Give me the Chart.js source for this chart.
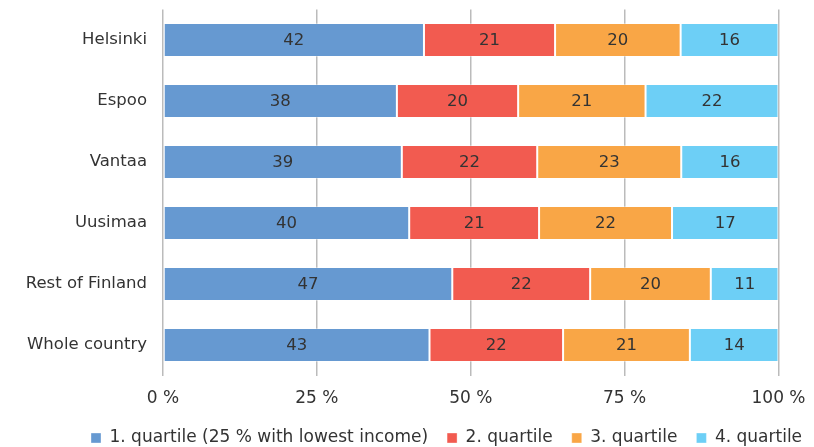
<!DOCTYPE html>
<html>
<head>
<meta charset="utf-8">
<script src="https://cdn.jsdelivr.net/npm/chart.js@4/dist/chart.umd.min.js"></script>
<style>
  html, body { margin: 0; padding: 0; background: #fff; }
  #wrap { width: 814px; height: 447px; }
</style>
</head>
<body>
<div id="wrap"><canvas id="chart"></canvas></div>
<script>
// areas (top to bottom)
const regions = ['Helsinki', 'Espoo', 'Vantaa', 'Uusimaa', 'Rest of Finland', 'Whole country'];

// share of population in each income quartile, %
const quartile1 = [42.4, 38.0, 38.8, 40.0, 47.0, 43.3];
const quartile2 = [21.3, 19.7, 22.0, 21.1, 22.4, 21.7];
const quartile3 = [20.4, 20.7, 23.4, 21.6, 19.6, 20.6];
const quartile4 = [15.9, 21.6, 15.8, 17.3, 11.0, 14.4];

const seriesNames = ['1. quartile (25 % with lowest income)', '2. quartile', '3. quartile', '4. quartile'];
const seriesColors = ['#6699d1', '#f25b50', '#f9a646', '#6dcff6'];
const xTicks = [0, 25, 50, 75, 100];

const FONT = 'DejaVu Sans, Verdana, sans-serif';

// writes the rounded value in the middle of every bar segment
const barLabels = {
    id: 'barLabels',
    afterDatasetsDraw(chart) {
        const ctx = chart.ctx;
        ctx.save();
        ctx.font = '16.5px ' + FONT;
        ctx.fillStyle = '#333333';
        ctx.textAlign = 'center';
        ctx.textBaseline = 'middle';
        chart.data.datasets.forEach(function(ds, i) {
            chart.getDatasetMeta(i).data.forEach(function(bar, j) {
                const x = (bar.x + bar.base) / 2;
                ctx.fillText(Math.round(ds.data[j]), x, bar.y + 1);
            });
        });
        ctx.restore();
    }
};

// legend: less height than chart.js gives it, and starts further right
const legendPlace = {
    id: 'legendPlace',
    beforeLayout(chart) {
        const legend = chart.legend;
        if (!legend || legend._patched) return;
        const fit = legend.fit;
        legend.fit = function() {
            fit.call(this);
            this.height = 36.5;
        };
        legend._patched = true;
    },
    afterLayout(chart) {
        if (!chart.legend) return;
        chart.legend.left = 72;
        chart.legend.right = 900;
    }
};

const allSeries = [quartile1, quartile2, quartile3, quartile4];

new Chart(document.getElementById('chart').getContext('2d'), {
    type: 'bar',
    data: {
        labels: regions,
        datasets: allSeries.map(function(values, i) {
            return {
                label: seriesNames[i],
                data: values,
                backgroundColor: seriesColors[i],
                borderColor: 'rgba(255,255,255,0.35)',
                borderWidth: 1,
                borderSkipped: false,
                barPercentage: 0.56,
                categoryPercentage: 1
            };
        })
    },
    options: {
        indexAxis: 'y',
        responsive: true,
        maintainAspectRatio: false,
        animation: false,
        layout: { padding: { top: 9.5, right: 0, left: 10, bottom: 0 } },
        scales: {
            x: {
                stacked: true,
                min: 0,
                max: 100,
                afterBuildTicks: function(axis) {
                    axis.ticks = xTicks.map(function(v) { return { value: v }; });
                },
                afterFit: function(axis) {
                    axis.height = 35;
                    axis.paddingLeft = 0;
                    axis.paddingRight = 35.5;
                },
                border: { display: false },
                grid: { color: '#bbbbbb', lineWidth: 1.5, drawTicks: false },
                ticks: {
                    padding: 13,
                    color: '#333333',
                    font: { family: FONT, size: 17 },
                    callback: function(v) { return v + ' %'; }
                }
            },
            y: {
                stacked: true,
                afterFit: function(axis) {
                    axis.width = 153;
                    axis.paddingTop = 0;
                    axis.paddingBottom = 0;
                },
                border: { display: false },
                grid: { display: false, drawTicks: false },
                ticks: {
                    padding: 16,
                    color: '#333333',
                    font: { family: FONT, size: 16.5 }
                }
            }
        },
        plugins: {
            legend: {
                position: 'bottom',
                align: 'start',
                labels: {
                    boxWidth: 10,
                    boxHeight: 10,
                    padding: 19,
                    color: '#333333',
                    font: { family: FONT, size: 17 }
                }
            },
            tooltip: { enabled: false }
        }
    },
    plugins: [barLabels, legendPlace]
});
</script>
</body>
</html>
